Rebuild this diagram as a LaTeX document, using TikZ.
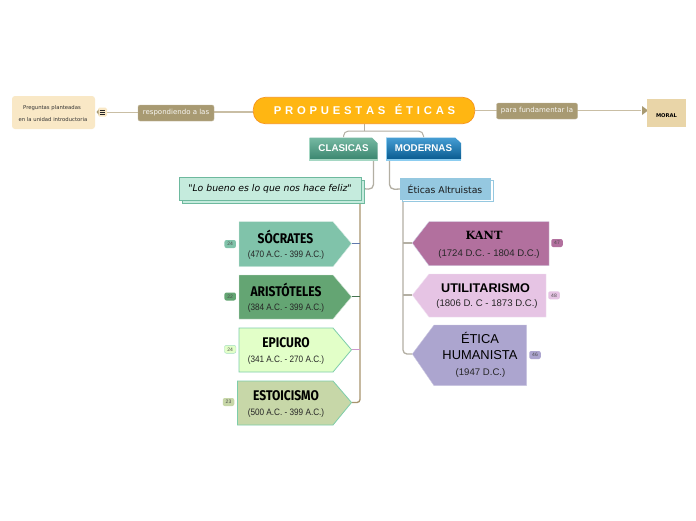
\documentclass[tikz,border=0pt]{standalone}
\usepackage{fontspec}
\setmainfont{Liberation Sans}
\newfontfamily\dejav{DejaVu Sans}
\newfontfamily\dejaserif{DejaVu Serif}
\newfontfamily\namefont[FakeStretch=0.86]{Fira Sans}
\newfontfamily\datefont[FakeStretch=0.88]{Liberation Sans}
\newfontfamily\datewide{Liberation Sans}
\definecolor{linegray}{HTML}{B3AFA3}
\definecolor{linetan}{HTML}{C9BEA4}
\definecolor{linebrown}{HTML}{A8946E}
\definecolor{tanlabel}{HTML}{A89A72}
\definecolor{memo}{HTML}{F9E8C6}
\definecolor{titlefill}{HTML}{FFB612}
\definecolor{titleline}{HTML}{F7941D}
\definecolor{moralfill}{HTML}{E9D5A8}
\definecolor{clastop}{HTML}{76B9A3}
\definecolor{clasbot}{HTML}{3C8770}
\definecolor{clasedge}{HTML}{A5D7C3}
\definecolor{modetop}{HTML}{469ED4}
\definecolor{modebot}{HTML}{0A5C91}
\definecolor{modeedge}{HTML}{8CCDF0}
\definecolor{quotefill}{HTML}{C5EBDD}
\definecolor{quoteline}{HTML}{6EB99E}
\definecolor{eticfill}{HTML}{95C8E0}
\definecolor{socfill}{HTML}{80C3AA}
\definecolor{arifill}{HTML}{64A573}
\definecolor{epifill}{HTML}{E2FFC8}
\definecolor{estfill}{HTML}{C7D7A8}
\definecolor{greenline}{HTML}{7DCDAA}
\definecolor{kanfill}{HTML}{B2709E}
\definecolor{utifill}{HTML}{E6C4E4}
\definecolor{hufill}{HTML}{ACA5CF}
\newcommand{\fs}[1]{\fontsize{#1}{#1}\selectfont}
\tikzset{
  every node/.style={inner sep=0pt,outer sep=0pt,text=black,align=center},
  conn/.style={draw=linegray,line width=1.3pt,rounded corners=5pt},
  tanline/.style={draw=linetan,line width=1.5pt},
  tanbox/.style={fill=tanlabel,draw=tanlabel!70!white,line width=.4pt,rounded corners=2pt,text=white!92!tanlabel,font=\dejav\fs{7}},
  badge/.style={rounded corners=2pt,minimum height=8pt,minimum width=11.5pt,font=\datewide\fs{5},text=black!70},
  namelabel/.style={font=\namefont\bfseries\fs{14}},
  datelabel/.style={font=\datefont\fs{9.3},text=black!85},
  datewidelabel/.style={font=\datewide\fs{9.6},text=black!85}
}
\begin{document}
\begin{tikzpicture}[x=1pt,y=-1pt]
\useasboundingbox[fill=white] (0,0) rectangle (696,520);

% anchor points of the connectors
\coordinate (socT) at (351.5,243.5);
\coordinate (ariT) at (351.5,296.8);
\coordinate (epiT) at (351.5,349.8);
\coordinate (estT) at (351.5,402.5);
\coordinate (kanT) at (412.3,243);
\coordinate (utiT) at (412.3,295);
\coordinate (etiT) at (412.3,354);
\coordinate (tbranch) at (364.5,131);
\coordinate (iconR) at (107,112.3);
\coordinate (respW) at (138,112.3);
\coordinate (respE) at (214,111.8);
\coordinate (titleW) at (253.3,111.8);
\coordinate (moralTip) at (641,110.5);

% boxes
\node[fill=memo,rounded corners=3pt,minimum width=83pt,minimum height=33pt] (preg) at (53.5,112.5) {};
\node[minimum width=221.5pt,minimum height=26.5pt] (title) at (364,110.5) {};
\node[minimum width=68.5pt,minimum height=24pt] (clas) at (343.5,149) {};
\node[minimum width=75.5pt,minimum height=24pt] (mode) at (423.5,149) {};
\node[minimum width=182pt,minimum height=23pt] (quote) at (270,188.5) {};
\node[minimum width=91pt,minimum height=22pt] (etic) at (445.5,189) {};

% connectors
\draw[conn,line width=1pt] (tbranch) -- (title.south -| tbranch);
\draw[conn,line width=1pt] (clas.north) -- (343.5,131) -- (423.5,131) -- (mode.north);
\draw[conn] (373.5,161) -- (373.5,189.5) -- (quote.east);
\draw[conn] (389.5,161) -- (389.5,189.5) -- (etic.west);
\draw[draw=linebrown,line width=1.3pt,rounded corners=3pt] (360,200) -- (360,402.5) -- (estT);
\draw[draw=socfill!60!blue!60!gray,line width=1.1pt] (socT) -- (360,243.5);
\draw[draw=arifill!70!black,line width=1.1pt] (ariT) -- (360,296.8);
\draw[draw=violet!40!white,line width=1.1pt] (epiT) -- (360,349.8);
\draw[conn,rounded corners=4pt] (403,200) -- (403,354) -- (etiT);
\draw[conn] (kanT) -- (403,243);
\draw[conn] (utiT) -- (403,295);
\draw[tanline] (respW) -- (iconR);
\draw[tanline] (titleW) -- (respE);
\draw[tanline] (title.east) -- (moralTip);
\fill[tanlabel] (648,110.5) -- (642,106) -- (642,115) -- cycle;
\node[tanbox,minimum width=76pt,minimum height=16pt] (resp) at (176,113) {respondiendo a las};
\node[tanbox,minimum width=81pt,minimum height=16pt] (para) at (537,111) {para fundamentar la};
\node[fill=moralfill,minimum width=39pt,minimum height=28pt] (moral) at (666.5,113) {};

% left memo
\node[font=\dejav\fs{5.3},text=black!80] (pregA) at (52,108) {Preguntas planteadas};
\node[font=\dejav\fs{5.3},text=black!80] (pregB) at (53,120) {en la unidad introductoria};
\node[fill=memo,rounded corners=1.5pt,minimum width=9pt,minimum height=9pt] (icon) at (102.5,112) {};
\fill[tanlabel] (96.5,112) -- (98.5,109.5) -- (98.5,114.5) -- cycle;
\foreach \yy in {110,112,114} \draw[black!85,line width=.7pt] (99.5,\yy) -- (105,\yy);

% title
\draw[fill=titlefill,draw=titleline,line width=.7pt,rounded corners=12pt] (253.3,97.3) rectangle (474.7,123.7);
\node[text=white,font=\datewide\bfseries\fs{11.3}] (titletext) at (364.5,109.5) {P\,\,R\,\,O\,\,P\,\,U\,\,E\,\,S\,\,T\,\,A\,\,S\,\,\,\,\,É\,\,T\,\,I\,\,C\,\,A\,\,S};

% moral
\node[font=\dejav\bfseries\fs{5.2},text=black] (moraltxt) at (666.5,116) {MORAL};

% clasicas / modernas
\shade[top color=clastop,bottom color=clasbot] (309.5,137.5) -- (372,137.5) -- (377.5,143) -- (377.5,159) -- (309.5,159) -- cycle;
\fill[clasedge] (309.5,159) rectangle (377.5,161);
\fill[clasedge] (309,137.5) rectangle (310,161);
\node[text=white,font=\datewide\bfseries\fs{9.8}] (clastxt) at (343.5,148.5) {CLASICAS};
\shade[top color=modetop,bottom color=modebot] (386,137.5) -- (455,137.5) -- (461,143) -- (461,159) -- (386,159) -- cycle;
\fill[modeedge] (386,159) rectangle (461,161);
\fill[modeedge] (385.5,137.5) rectangle (386.5,161);
\node[text=white,font=\datewide\bfseries\fs{9.8}] (modetxt) at (423.5,148.5) {MODERNAS};

% quote & altruistas
\draw[fill=quotefill,draw=quoteline,line width=.8pt] (182,180) rectangle (364,203);
\draw[fill=quotefill,draw=quoteline,line width=.8pt] (179,177) rectangle (361,200);
\node[font=\dejav\itshape\fs{9.3},text=black] (quotetxt) at (270,188.5) {"Lo bueno es lo que nos hace feliz"};
\draw[fill=white,draw=eticfill,line width=.8pt] (402,180) rectangle (493,201.5);
\fill[eticfill] (400,178) rectangle (491,200);
\node[font=\dejav\fs{9.3},text=black!90] (etictxt) at (445,189.5) {Éticas Altruistas};

% left arrows
\fill[fill=socfill,draw=socfill!30!white,line width=.4pt] (239,221.7) -- (333,221.7) -- (socT) -- (333,266.7) -- (239,266.7) -- cycle;
\node[namelabel] (soc) at (285.5,236.5) {SÓCRATES};
\node[datelabel] (socd) at (286,255.5) {(470 A.C. - 399 A.C.)};
\node[badge,fill=socfill] (socb) at (230.2,244) {24};

\fill[fill=arifill,draw=arifill!30!white,line width=.4pt] (239,275) -- (333,275) -- (ariT) -- (333,319) -- (239,319) -- cycle;
\node[namelabel] (ari) at (286,289.5) {ARISTÓTELES};
\node[datelabel] (arid) at (286,307.8) {(384 A.C. - 399 A.C.)};
\node[badge,fill=arifill] (arib) at (230.2,296.5) {22};

\draw[fill=epifill,draw=greenline,line width=.8pt] (239,328) -- (333,328) -- (epiT) -- (333,372) -- (239,372) -- cycle;
\node[namelabel] (epi) at (286,342.5) {EPICURO};
\node[datelabel] (epid) at (286,360) {(341 A.C. - 270 A.C.)};
\node[badge,fill=epifill,draw=greenline!70!white,line width=.4pt] (epib) at (230.2,349.3) {24};

\draw[fill=estfill,draw=greenline,line width=.8pt] (237.5,381) -- (333,381) -- (estT) -- (333,425) -- (237.5,425) -- cycle;
\node[namelabel] (est) at (286,395.5) {ESTOICISMO};
\node[datelabel] (estd) at (286,412.8) {(500 A.C. - 399 A.C.)};
\node[badge,fill=estfill] (estb) at (228.5,402) {23};

% right arrows
\fill[fill=kanfill,draw=hufill!60!white,line width=.4pt] (kanT) -- (429,221.7) -- (549,221.7) -- (549,265.7) -- (429,265.7) -- cycle;
\node[font=\dejaserif\bfseries\fs{11.3},text=black] (kan) at (484,235.5) {KANT};
\node[datewidelabel] (kand) at (489,254) {(1724 D.C. - 1804 D.C.)};
\node[badge,fill=kanfill] (kanb) at (557,243) {47};

\fill[fill=utifill,draw=utifill!50!white,line width=.4pt] (utiT) -- (429,274) -- (546,274) -- (546,317) -- (429,317) -- cycle;
\node[font=\datewide\bfseries\fs{12.6},text=black] (uti) at (485.5,288) {UTILITARISMO};
\node[datewidelabel] (utid) at (487,304.5) {(1806 D. C - 1873 D.C.)};
\node[badge,fill=utifill] (utib) at (554,295.3) {48};

\fill[fill=hufill,draw=hufill!60!white,line width=.4pt] (etiT) -- (434,325) -- (526.7,325) -- (526.7,385.7) -- (434,385.7) -- cycle;
\node[font=\datewide\fs{12.9},text=black] (eti) at (480,338) {ÉTICA};
\node[font=\datewide\fs{12.9},text=black] (eti2) at (480,355) {HUMANISTA};
\node[datewidelabel] (etid) at (480.5,373.5) {(1947 D.C.)};
\node[badge,fill=hufill] (etib) at (535,355) {46};
\end{tikzpicture}
\end{document}
